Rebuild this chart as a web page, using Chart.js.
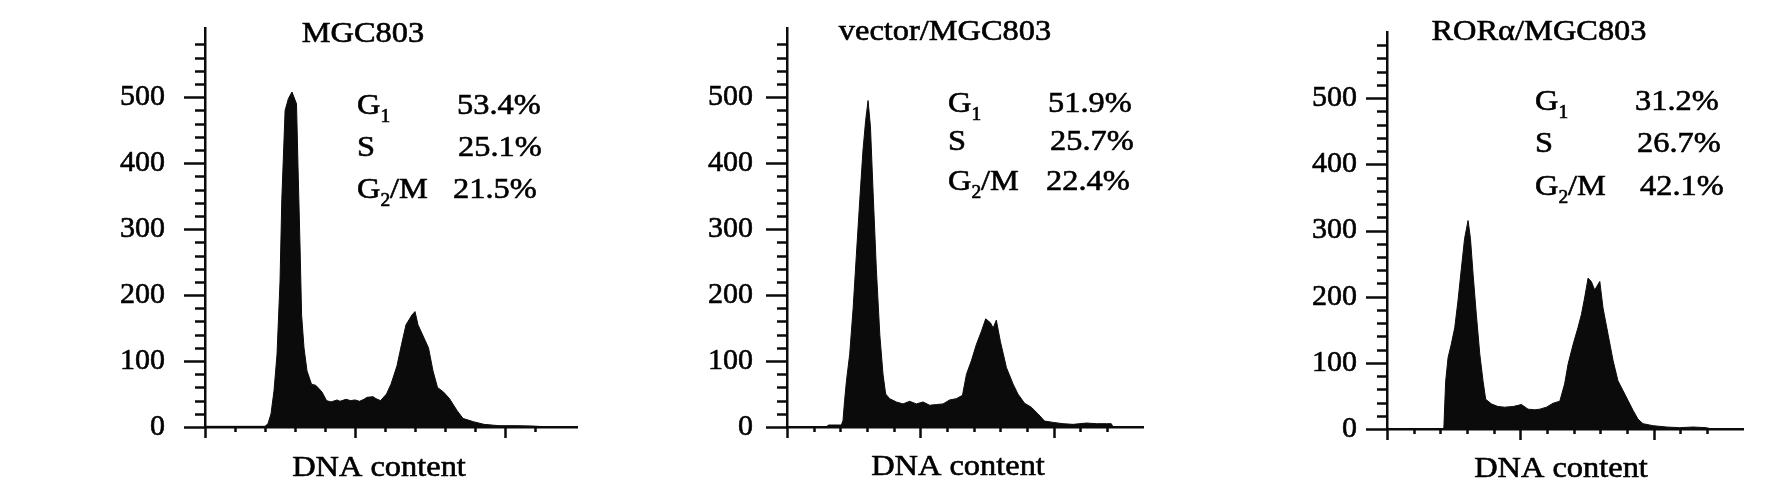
<!DOCTYPE html>
<html>
<head>
<meta charset="utf-8">
<script src="https://cdn.jsdelivr.net/npm/chart.js@4.4.1/dist/chart.umd.min.js"></script>
<style>
  html, body { margin: 0; padding: 0; background: #fff; }
  body { width: 1772px; height: 496px; position: relative; overflow: hidden; }
  canvas { position: absolute; top: 0; }
</style>
</head>
<body>
<canvas id="c1" width="600" height="496" style="left:0px"></canvas>
<canvas id="c2" width="590" height="496" style="left:600px"></canvas>
<canvas id="c3" width="582" height="496" style="left:1190px"></canvas>
<script>
// y axis labels (cell count)
const yTickValues = [0, 100, 200, 300, 400, 500];

// MGC803
const channels1 = [0, 20, 21, 22, 23, 24, 25, 25.6, 26.7, 27.8, 29, 30.5, 31, 31.7, 32.2, 33, 34, 35.5, 37, 39,
  40.5, 42, 44, 45, 47, 48.5, 50, 51.5, 53, 54, 56, 57, 58.5, 60.5, 62, 64, 65.5, 67, 69, 70,
  71, 73, 74.5, 76, 77.5, 79.5, 81.5, 84, 86, 89.5, 93, 98, 104, 109, 115];
const counts1 = [1, 1, 5, 20, 55, 110, 220, 345, 480, 498, 508, 490, 395, 270, 170, 120, 85, 65, 63, 53,
  40, 38, 41, 39, 42, 40, 41, 39, 42, 45, 46, 43, 40, 50, 65, 93, 125, 155, 170, 175,
  155, 135, 120, 85, 60, 53, 43, 25, 13, 8, 4, 2, 2, 1.5, 0];

// vector/MGC803
const channels2 = [0, 14.8, 15.5, 20.4, 21, 21.6, 22.3, 23.5, 24.8, 26, 27.3, 28.5, 29.5, 30.4, 31.3, 32.3, 33.5, 34.8, 36, 37,
  38.5, 41, 43.5, 46, 48.5, 51, 53.5, 56, 58.5, 61, 63.5, 65.8, 67.3, 69.1, 71, 72.9, 74.5, 76.3, 77.3, 78.5,
  80, 82.3, 84.8, 86.6, 89.1, 91.6, 94.1, 96.6, 99.8, 103.5, 107.3, 112.3, 116, 119.8, 121.6, 122.3];
const counts2 = [0, 0, 3, 3, 10, 40, 70, 110, 180, 260, 345, 420, 465, 495, 455, 355, 240, 140, 80, 50,
  43, 38, 35, 39, 35, 38, 33, 34, 35, 41, 43, 48, 80, 100, 125, 145, 164, 158, 150, 162,
  130, 90, 65, 50, 36, 30, 20, 9, 7, 5, 4, 6, 5, 5, 5, 0];

// RORα/MGC803
const channels3 = [0, 21.3, 22, 22.9, 24.1, 25.4, 26.6, 27.9, 29.1, 30.4, 31.3, 32.3, 33.5, 34.8, 36, 37, 39.1, 41.6, 44.1, 47.3,
  50.4, 52.9, 55.4, 57.3, 59.8, 62.3, 64.8, 66.6, 67.9, 69.8, 71.6, 72.9, 74.1, 75.4, 76.6, 77.9, 79.8, 81, 82.9, 84.8,
  86.6, 88.5, 90.4, 92.3, 94.1, 96, 99.8, 104.8, 109.8, 114.8, 119.8, 121.6];
const counts3 = [0, 0, 72, 108, 128, 153, 193, 243, 288, 315, 288, 233, 173, 113, 73, 45, 38, 34, 33, 34,
  37, 30, 29, 30, 33, 39, 42, 68, 98, 128, 153, 173, 198, 228, 223, 210, 223, 183, 143, 103,
  73, 58, 43, 28, 15, 8, 5, 3, 2, 3, 2, 0];

const titles = ['MGC803', 'vector/MGC803', 'RORα/MGC803'];
const phaseNames = ['G', 'S', 'G'];
const phaseSubs = ['1', '', '2'];
const phaseRest = ['', '', '/M'];
const phaseValues1 = ['53.4%', '25.1%', '21.5%'];
const phaseValues2 = ['51.9%', '25.7%', '22.4%'];
const phaseValues3 = ['31.2%', '26.7%', '42.1%'];
const xLabel = 'DNA content';

const FONT = '"Liberation Serif", "Times New Roman", serif';
const INK = '#0b0b0b';

function toPoints(xs, ys) {
    let pts = [];
    for (let i = 0; i < xs.length; i++) {
        pts.push({ x: xs[i], y: ys[i] });
    }
    return pts;
}

// text is a little wider and heavier in the scan than plain Liberation Serif
function stretchedText(ctx, text, x, y, size, align) {
    ctx.save();
    ctx.font = size + 'px ' + FONT;
    ctx.textAlign = align || 'left';
    ctx.textBaseline = 'alphabetic';
    ctx.translate(x, y);
    ctx.scale(1.08, 1);
    ctx.lineWidth = 0.6;
    ctx.strokeStyle = '#000';
    ctx.fillText(text, 0, 0);
    ctx.strokeText(text, 0, 0);
    let w = ctx.measureText(text).width * 1.08;
    ctx.restore();
    return w;
}

const decorations = {
    id: 'decorations',
    afterDraw(chart, args, o) {
        const { ctx, chartArea } = chart;
        const x = chart.scales.x, y = chart.scales.y;
        ctx.save();
        ctx.strokeStyle = INK;
        ctx.lineWidth = 2.5;
        ctx.beginPath();
        for (let v = 0; v <= 580; v += 20) {
            let py = Math.round(y.getPixelForValue(v)) + 0.5;
            let len = v % 100 === 0 ? 21 : 10;
            ctx.moveTo(chartArea.left, py);
            ctx.lineTo(chartArea.left - len, py);
        }
        for (let v = 0; v <= o.xTickMax; v += 10) {
            let px = Math.round(x.getPixelForValue(v)) + 0.5;
            let len = v % 50 === 0 ? 11 : 5;
            ctx.moveTo(px, chartArea.bottom);
            ctx.lineTo(px, chartArea.bottom + len);
        }
        ctx.stroke();

        ctx.fillStyle = '#000';
        let L = chartArea.left;
        stretchedText(ctx, o.title, L + o.titleDx, o.titleY, 30, 'center');
        for (let i = 0; i < phaseNames.length; i++) {
            let yb = o.rowY[i];
            let w = stretchedText(ctx, phaseNames[i], L + o.nameDx, yb, 30);
            if (phaseSubs[i]) {
                w += stretchedText(ctx, phaseSubs[i], L + o.nameDx + w, yb + 8, 18);
            }
            if (phaseRest[i]) {
                stretchedText(ctx, phaseRest[i], L + o.nameDx + w, yb, 30);
            }
            stretchedText(ctx, o.values[i], L + o.valueDx[i], yb, 30);
        }
        stretchedText(ctx, xLabel, L + o.labelDx, o.labelY, 30, 'center');
        ctx.restore();
    }
};

function createHistogram(id, cfg) {
    const canvas = document.getElementById(id);
    return new Chart(canvas.getContext('2d'), {
        type: 'line',
        data: {
            datasets: [{
                data: toPoints(cfg.xs, cfg.ys),
                fill: 'origin',
                backgroundColor: INK,
                borderColor: INK,
                borderWidth: 1,
                pointRadius: 0,
                tension: 0
            }]
        },
        options: {
            responsive: false,
            animation: false,
            events: [],
            layout: {
                padding: { left: 0, top: cfg.top, right: cfg.padRight, bottom: 0 }
            },
            plugins: {
                legend: { display: false },
                tooltip: { enabled: false },
                decorations: cfg.deco
            },
            scales: {
                x: {
                    type: 'linear',
                    min: 0,
                    max: cfg.xMax,
                    grid: { display: false, drawTicks: false },
                    border: { display: true, color: INK, width: 2.5 },
                    ticks: { display: false },
                    afterFit: function (scale) {
                        scale.height = 496 - cfg.bottom;
                        scale.paddingLeft = 0;
                        scale.paddingRight = 0;
                    }
                },
                y: {
                    min: 0,
                    max: cfg.yMax,
                    grid: { display: false, drawTicks: false },
                    border: { display: true, color: INK, width: 2.5 },
                    afterBuildTicks: function (scale) {
                        scale.ticks = yTickValues.map(v => ({ value: v }));
                    },
                    ticks: {
                        color: '#000',
                        padding: cfg.labelPad,
                        textStrokeColor: '#000',
                        textStrokeWidth: 0.6,
                        font: { family: FONT, size: 30 }
                    },
                    afterFit: function (scale) {
                        scale.width = cfg.axisX - cfg.left;
                        scale.paddingTop = 0;
                        scale.paddingBottom = 0;
                    }
                }
            }
        },
        plugins: [decorations]
    });
}

createHistogram('c1', {
    xs: channels1, ys: counts1, left: 0, axisX: 205, top: 28, bottom: 427, padRight: 23,
    xMax: 124, yMax: 605, labelPad: 40,
    deco: { xTickMax: 110, title: titles[0], titleDx: 158, titleY: 42, nameDx: 152,
        rowY: [114, 156, 198], values: phaseValues1, valueDx: [252, 253, 248], labelDx: 174, labelY: 476 }
});

createHistogram('c2', {
    xs: channels2, ys: counts2, left: 600, axisX: 787, top: 28, bottom: 427, padRight: 47,
    xMax: 133.5, yMax: 605, labelPad: 34,
    deco: { xTickMax: 120, title: titles[1], titleDx: 158, titleY: 40, nameDx: 161,
        rowY: [112, 150, 190], values: phaseValues2, valueDx: [261, 263, 259], labelDx: 171, labelY: 475 }
});

createHistogram('c3', {
    xs: channels3, ys: counts3, left: 1190, axisX: 1387, top: 32, bottom: 429, padRight: 29,
    xMax: 133.5, yMax: 600, labelPad: 30,
    deco: { xTickMax: 120, title: titles[2], titleDx: 152, titleY: 40, nameDx: 148,
        rowY: [110, 152, 195], values: phaseValues3, valueDx: [248, 250, 253], labelDx: 174, labelY: 477 }
});
</script>
</body>
</html>
